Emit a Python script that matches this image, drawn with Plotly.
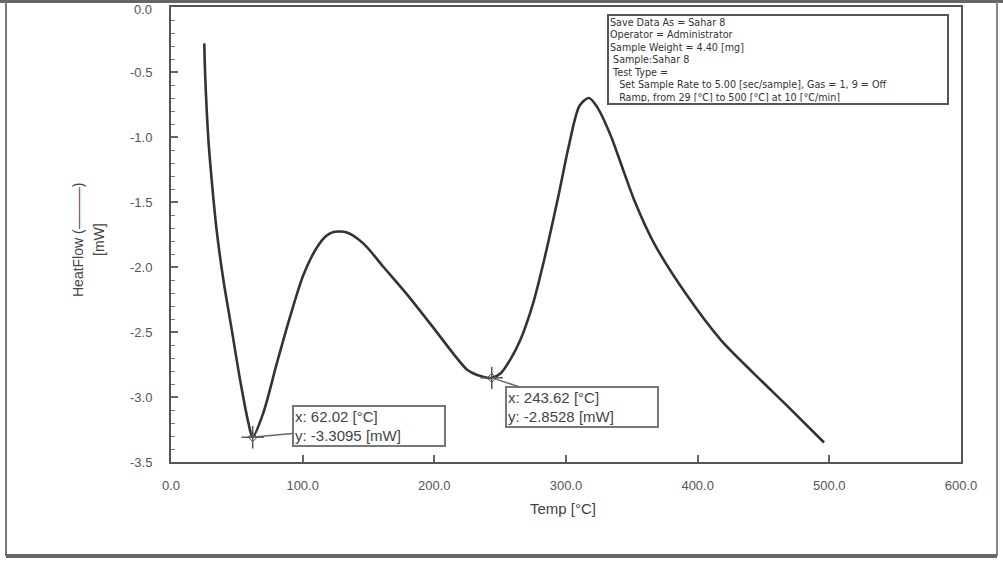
import plotly.graph_objects as go

temp = [25.3, 25.9, 28.4, 30.9, 34.7, 39.8, 46.1, 52.5, 58.8, 62.0, 70.2, 80.4, 90.5, 100.6,
        110.8, 118.0, 123.4, 133.6, 146.2, 161.4, 179.2, 199.5, 214.7, 224.9, 232.5, 243.6,
        250.2, 257.8, 265.4, 275.0, 283.3, 294.1, 302.0, 310.3, 317.4, 323.7, 334.0, 344.0,
        352.0, 367.0, 392.0, 417.5, 442.8, 468.2, 496.0]
heatflow = [-0.28, -0.51, -1.02, -1.33, -1.72, -2.10, -2.48, -2.87, -3.20, -3.31, -3.12, -2.74,
            -2.38, -2.06, -1.85, -1.76, -1.73, -1.735, -1.82, -2.00, -2.21, -2.47, -2.67, -2.79,
            -2.83, -2.853, -2.82, -2.71, -2.56, -2.28, -1.95, -1.46, -1.075, -0.76, -0.70, -0.77,
            -0.99, -1.27, -1.49, -1.82, -2.22, -2.56, -2.82, -3.07, -3.35]

peak_x = [62.02, 243.62]
peak_y = [-3.3095, -2.8528]
peak_text = ["x: 62.02 [°C]<br>y: -3.3095 [mW]", "x: 243.62 [°C]<br>y: -2.8528 [mW]"]
peak_offsets = [(116, -11), (90, 29)]

x_ticks = [0, 100, 200, 300, 400, 500, 600]
x_ticklabels = ["0.0", "100.0", "200.0", "300.0", "400.0", "500.0", "600.0"]
y_ticks = [0.0, -0.5, -1.0, -1.5, -2.0, -2.5, -3.0, -3.5]
y_ticklabels = ["0.0", "-0.5", "-1.0", "-1.5", "-2.0", "-2.5", "-3.0", "-3.5"]

info_lines = [
    "Save Data As = Sahar 8",
    "Operator = Administrator",
    "Sample Weight = 4.40 [mg]",
    "\u00a0Sample:Sahar 8",
    "\u00a0Test Type =",
    "\u00a0\u00a0\u00a0Set Sample Rate to 5.00 [sec/sample], Gas = 1, 9 = Off",
    "\u00a0\u00a0\u00a0Ramp, from 29 [°C] to 500 [°C] at 10 [°C/min]",
]

W, H = 1003, 561
L, R, T, B = 171, 42, 7, 99
pw, ph = W - L - R, H - T - B


def px(xp):
    return (xp - L) / pw


def py(yp):
    return (H - B - yp) / ph


fig = go.Figure()
fig.add_trace(go.Scatter(x=temp, y=heatflow, mode="lines",
                         line=dict(color="#333333", width=2.6, shape="spline", smoothing=0.8),
                         showlegend=False, hoverinfo="skip"))
fig.add_trace(go.Scatter(x=peak_x, y=peak_y, mode="markers",
                         marker=dict(symbol="cross-thin", size=16, line=dict(color="#555555", width=1.5)),
                         showlegend=False, hoverinfo="skip"))
fig.add_trace(go.Scatter(x=peak_x, y=peak_y, mode="markers",
                         marker=dict(symbol="diamond-open", size=7, color="#555555", line=dict(color="#555555", width=1)),
                         showlegend=False, hoverinfo="skip"))

axis_font = dict(family="Liberation Sans, Arial, sans-serif", size=13, color="#555555")

fig.update_xaxes(range=[0, 600], tickvals=x_ticks, ticktext=x_ticklabels, automargin=False,
                 showline=True, linecolor="#555555", linewidth=2, mirror=True,
                 ticks="inside", ticklen=7, tickcolor="#666666", tickwidth=1.5,
                 showgrid=False, zeroline=False, tickfont=axis_font, ticklabelstandoff=10)
fig.update_yaxes(range=[-3.5, 0.0], tickvals=y_ticks, ticktext=y_ticklabels, automargin=False,
                 showline=True, linecolor="#555555", linewidth=2, mirror=True,
                 ticks="inside", ticklen=7, tickcolor="#666666", tickwidth=1.5,
                 minor=dict(dtick=0.1, ticks="inside", ticklen=4, tickcolor="#777777", tickwidth=1),
                 showgrid=False, zeroline=False, tickfont=axis_font, ticklabelstandoff=14)

annotations = []
for xv, yv, txt, (ax, ay) in zip(peak_x, peak_y, peak_text, peak_offsets):
    annotations.append(dict(x=xv, y=yv, xref="x", yref="y", text=txt, showarrow=True,
                            arrowhead=0, arrowwidth=1.5, arrowcolor="#666666", ax=ax, ay=ay,
                            align="left", width=148, height=36,
                            bordercolor="#777777", borderwidth=2, borderpad=1, bgcolor="white",
                            font=dict(family="Liberation Sans, Arial, sans-serif", size=15, color="#444444")))

annotations.append(dict(x=px(607), y=py(14), xref="paper", yref="paper", xanchor="left", yanchor="top",
                        text="<br>".join(info_lines), showarrow=False, align="left",
                        width=336, height=85, valign="top",
                        bordercolor="#555555", borderwidth=2, borderpad=1, bgcolor="white",
                        font=dict(family="DejaVu Sans, sans-serif", size=9.6, color="#333333")))

# top y tick label, placed just below the page edge
annotations.append(dict(x=px(154), y=py(10), xref="paper", yref="paper", xanchor="right", yanchor="middle",
                        text=y_ticklabels[0], showarrow=False, font=axis_font))

annotations.append(dict(x=px(563), y=py(519), xref="paper", yref="paper", text="Temp [°C]",
                        showarrow=False, font=dict(family="Liberation Sans, Arial, sans-serif", size=15, color="#444444")))
annotations.append(dict(x=px(78), y=py(240), xref="paper", yref="paper", text="HeatFlow (———)",
                        textangle=-90, showarrow=False, xanchor="center", yanchor="middle",
                        font=dict(family="Liberation Sans, Arial, sans-serif", size=14, color="#444444")))
annotations.append(dict(x=px(99), y=py(240), xref="paper", yref="paper", text="[mW]",
                        textangle=-90, showarrow=False, xanchor="center", yanchor="middle",
                        font=dict(family="Liberation Sans, Arial, sans-serif", size=14, color="#444444")))

shapes = [
    dict(type="line", xref="paper", yref="paper", x0=px(0), x1=px(W), y0=py(1), y1=py(1),
         line=dict(color="#666666", width=4)),
    dict(type="line", xref="paper", yref="paper", x0=px(6), x1=px(6), y0=py(2), y1=py(556),
         line=dict(color="#777777", width=2)),
    dict(type="line", xref="paper", yref="paper", x0=px(997), x1=px(997), y0=py(2), y1=py(556),
         line=dict(color="#888888", width=2)),
    dict(type="line", xref="paper", yref="paper", x0=px(6), x1=px(997), y0=py(556), y1=py(556),
         line=dict(color="#666666", width=4)),
]

fig.update_layout(width=W, height=H, margin=dict(l=L, r=R, t=T, b=B, autoexpand=False),
                  plot_bgcolor="white", paper_bgcolor="white",
                  annotations=annotations, shapes=shapes, showlegend=False)

fig.write_html("out.html", config={"displayModeBar": False},
               post_script="document.body.style.margin='0';document.body.style.overflow='hidden';")
